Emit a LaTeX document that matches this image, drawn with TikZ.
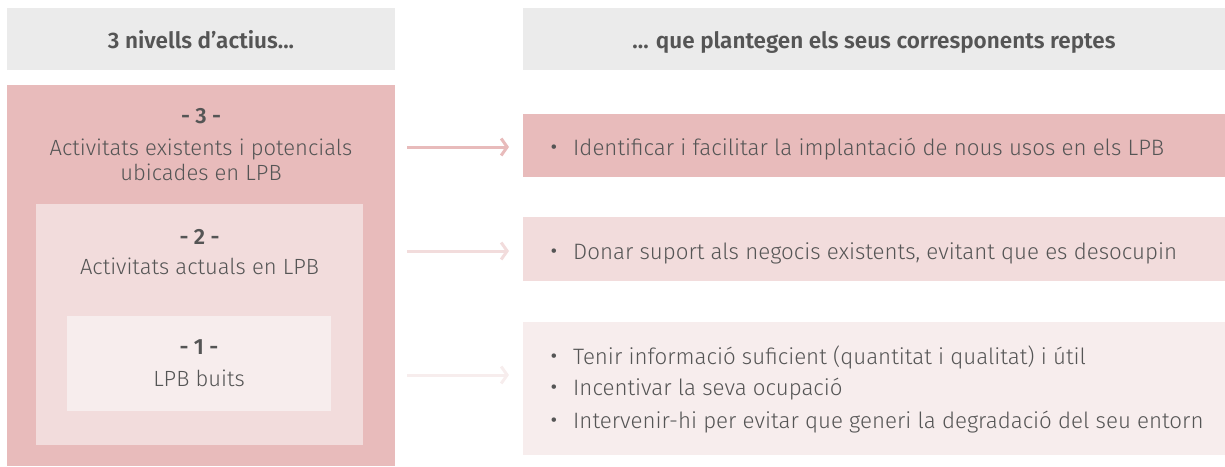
\documentclass[tikz,border=0pt]{standalone}
\usepackage{fontspec}
\setmainfont{Fira Sans Light}[BoldFont=Fira Sans SemiBold]
\usetikzlibrary{arrows.meta}
\definecolor{hdr}{HTML}{EBEBEB}
\definecolor{pinkA}{HTML}{E8BBBB}
\definecolor{pinkB}{HTML}{F2DCDC}
\definecolor{pinkC}{HTML}{F7EDED}
\definecolor{txt}{HTML}{555555}
\tikzset{
  box/.style={anchor=north west, inner sep=0pt, outer sep=0pt, draw=none},
  lbl/.style={text=txt, font=\fontsize{22}{26}\selectfont, inner sep=0pt, anchor=base},
  num/.style={text=txt, font=\fontsize{22}{26}\selectfont\bfseries, inner sep=0pt, anchor=base},
  hd/.style={text=txt, font=\fontsize{22.5}{26}\selectfont\bfseries, inner sep=0pt, anchor=base},
  item/.style={text=txt, font=\fontsize{22.3}{26}\selectfont, inner sep=0pt, anchor=base west},
  bul/.style={text=txt, font=\fontsize{30}{30}\selectfont, inner sep=0pt, anchor=base},
  conn/.style={line width=3pt, -{Straight Barb[length=6pt,width=17pt,line width=3pt]}},
}
\begin{document}
\begin{tikzpicture}[x=1pt,y=-1pt]
\useasboundingbox (0,0) rectangle (1225,466);
% headers
\node[box, fill=hdr, minimum width=388pt, minimum height=62pt] (h1) at (7,8) {};
\node[box, fill=hdr, minimum width=702pt, minimum height=62pt] (h2) at (523,8) {};
\node[hd] (ht1) at (201,48) {3 nivells d’actius...};
\node[hd] (ht2) at (874,48) {... que plantegen els seus corresponents reptes};
% nested boxes
\node[box, fill=pinkA, minimum width=388pt, minimum height=381pt] (b3) at (7,85) {};
\node[box, fill=pinkB, minimum width=327pt, minimum height=241pt] (b2) at (36,204) {};
\node[box, fill=pinkC, minimum width=264pt, minimum height=95pt] (b1) at (67,316) {};
\node[num] (n3) at (201,123) {- 3 -};
\node[lbl] (t3a) at (201,155) {Activitats existents i potencials};
\node[lbl] (t3b) at (201,180) {ubicades en LPB};
\node[num] (n2) at (199.5,244) {- 2 -};
\node[lbl] (t2) at (199.5,274) {Activitats actuals en LPB};
\node[num] (n1) at (199,354) {- 1 -};
\node[lbl] (t1) at (199,386) {LPB buits};
% right boxes
\node[box, fill=pinkA, minimum width=702pt, minimum height=63pt] (r3) at (523,114) {};
\node[box, fill=pinkB, minimum width=702pt, minimum height=64pt] (r2) at (523,217) {};
\node[box, fill=pinkC, minimum width=702pt, minimum height=133pt] (r1) at (523,322) {};
\node[bul] at (554,157) {•};
\node[item] (i3) at (573,155) {Identificar i facilitar la implantació de nous usos en els LPB};
\node[bul] at (554,261) {•};
\node[item] (i2) at (573,259) {Donar suport als negocis existents, evitant que es desocupin};
\node[bul] at (554,366) {•};
\node[item] (i1a) at (573,364) {Tenir informació suficient (quantitat i qualitat) i útil};
\node[bul] at (554,397) {•};
\node[item] (i1b) at (573,395) {Incentivar la seva ocupació};
\node[bul] at (554,430) {•};
\node[item] (i1c) at (573,428) {Intervenir-hi per evitar que generi la degradació del seu entorn};
% arrows
\coordinate (a3s) at (407,147); \coordinate (a3e) at (509,147);
\coordinate (a2s) at (407,251); \coordinate (a2e) at (509,251);
\coordinate (a1s) at (407,375); \coordinate (a1e) at (509,375);
\draw[conn, draw=pinkA] (a3s) -- (a3e);
\draw[conn, draw=pinkB] (a2s) -- (a2e);
\draw[conn, draw=pinkC] (a1s) -- (a1e);
\end{tikzpicture}
\end{document}
